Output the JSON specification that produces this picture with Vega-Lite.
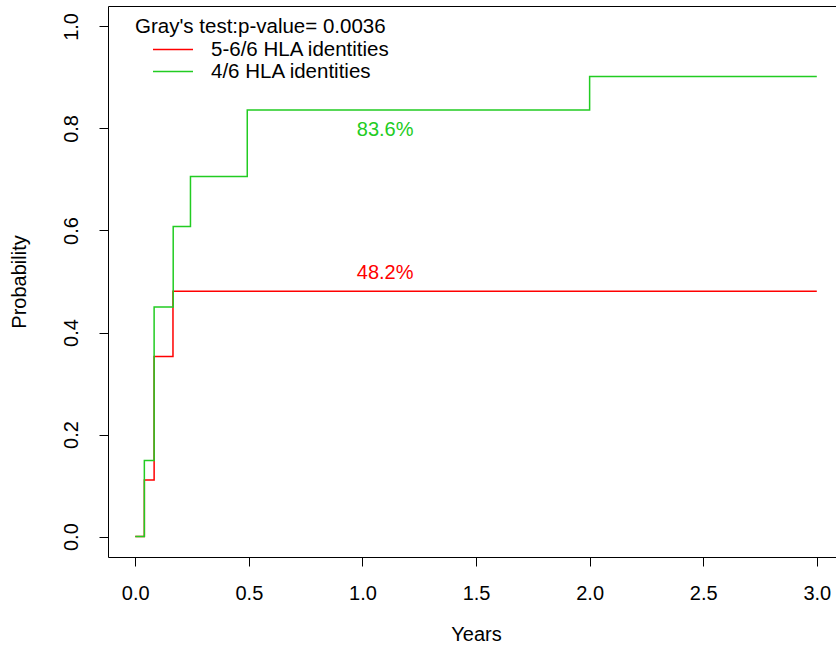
{
  "$schema": "https://vega.github.io/schema/vega-lite/v6.json",
  "width": 728,
  "height": 551,
  "autosize": {"type": "none"},
  "padding": {"left": 108, "top": 6, "right": 0, "bottom": 90},
  "background": "white",
  "config": {
    "view": {"stroke": null},
    "font": "Liberation Sans",
    "axis": {"grid": false, "domainColor": "black", "domainWidth": 1, "tickColor": "black", "tickWidth": 1, "labelColor": "black", "titleColor": "black", "titleFontWeight": "normal"}
  },
  "layer": [
    {
      "data": {
        "values": [
          {"years": 0, "prob": 0, "group": "5-6/6 HLA identities"},
          {"years": 0.04, "prob": 0.111, "group": "5-6/6 HLA identities"},
          {"years": 0.083, "prob": 0.353, "group": "5-6/6 HLA identities"},
          {"years": 0.166, "prob": 0.481, "group": "5-6/6 HLA identities"},
          {"years": 3.0, "prob": 0.481, "group": "5-6/6 HLA identities"},
          {"years": 0, "prob": 0, "group": "4/6 HLA identities"},
          {"years": 0.04, "prob": 0.149, "group": "4/6 HLA identities"},
          {"years": 0.083, "prob": 0.45, "group": "4/6 HLA identities"},
          {"years": 0.167, "prob": 0.608, "group": "4/6 HLA identities"},
          {"years": 0.243, "prob": 0.706, "group": "4/6 HLA identities"},
          {"years": 0.493, "prob": 0.836, "group": "4/6 HLA identities"},
          {"years": 2.0, "prob": 0.902, "group": "4/6 HLA identities"},
          {"years": 3.0, "prob": 0.902, "group": "4/6 HLA identities"}
        ]
      },
      "mark": {"type": "line", "interpolate": "step-after", "strokeWidth": 1.5},
      "encoding": {
        "x": {
          "field": "years", "type": "quantitative",
          "scale": {"domain": [-0.12, 3.0845], "nice": false, "zero": false},
          "axis": {
            "orient": "bottom", "values": [0, 0.5, 1, 1.5, 2, 2.5, 3], "format": ".1f",
            "labelFontSize": 20, "labelBaseline": "alphabetic", "tickSize": 9, "labelPadding": 33,
            "labelFlush": false, "labelOverlap": false,
            "title": "Years", "titleFontSize": 20, "titleX": 368, "titleY": 83.5,
            "titleBaseline": "alphabetic", "titleAlign": "center", "titleAnchor": null
          }
        },
        "y": {
          "field": "prob", "type": "quantitative",
          "scale": {"domain": [-0.04, 1.04], "nice": false, "zero": false},
          "axis": {
            "values": [0, 0.2, 0.4, 0.6, 0.8, 1.0], "format": ".1f",
            "labelFontSize": 20, "labelAngle": 270, "labelAlign": "center", "labelBaseline": "alphabetic",
            "tickSize": 9, "labelPadding": 22, "labelFlush": false, "labelOverlap": false,
            "title": "Probability", "titleFontSize": 20, "titleAngle": 270, "titleX": -83, "titleY": 275.5,
            "titleBaseline": "alphabetic", "titleAlign": "center", "titleAnchor": null
          }
        },
        "color": {
          "field": "group", "type": "nominal",
          "scale": {"domain": ["5-6/6 HLA identities", "4/6 HLA identities"], "range": ["#FF0000", "#22CC22"]},
          "legend": {
            "orient": "none", "legendX": 27, "legendY": 11, "padding": 0,
            "title": "Gray's test:p-value= 0.0036", "titleFontSize": 20.5, "titleFontWeight": "normal",
            "titleColor": "black", "titleLimit": 600, "titlePadding": 1, "titleAnchor": "start",
            "labelFontSize": 20.5, "labelColor": "black", "labelLimit": 600,
            "symbolType": "M-2,0H2", "symbolSize": 400, "symbolStrokeWidth": 1.5,
            "symbolOffset": 27, "labelOffset": 27, "rowPadding": -1
          }
        }
      }
    },
    {
      "data": {
        "values": [
          {"years": 1.1, "prob": 0.797, "label": "83.6%", "group": "4/6 HLA identities"},
          {"years": 1.1, "prob": 0.517, "label": "48.2%", "group": "5-6/6 HLA identities"}
        ]
      },
      "mark": {"type": "text", "fontSize": 20, "baseline": "middle", "align": "center"},
      "encoding": {
        "x": {
          "field": "years", "type": "quantitative",
          "scale": {"domain": [-0.12, 3.0845], "nice": false, "zero": false},
          "axis": {"orient": "top", "labels": false, "ticks": false, "title": null, "domainColor": "black"}
        },
        "y": {
          "field": "prob", "type": "quantitative",
          "scale": {"domain": [-0.04, 1.04], "nice": false, "zero": false},
          "axis": {
            "values": [0, 0.2, 0.4, 0.6, 0.8, 1.0], "format": ".1f",
            "labelFontSize": 20, "labelAngle": 270, "labelAlign": "center", "labelBaseline": "alphabetic",
            "tickSize": 9, "labelPadding": 22, "labelFlush": false, "labelOverlap": false,
            "title": "Probability", "titleFontSize": 20, "titleAngle": 270, "titleX": -83, "titleY": 275.5,
            "titleBaseline": "alphabetic", "titleAlign": "center", "titleAnchor": null
          }
        },
        "text": {"field": "label"},
        "color": {"field": "group", "type": "nominal", "legend": null}
      }
    }
  ],
  "resolve": {"axis": {"x": "independent"}}
}
